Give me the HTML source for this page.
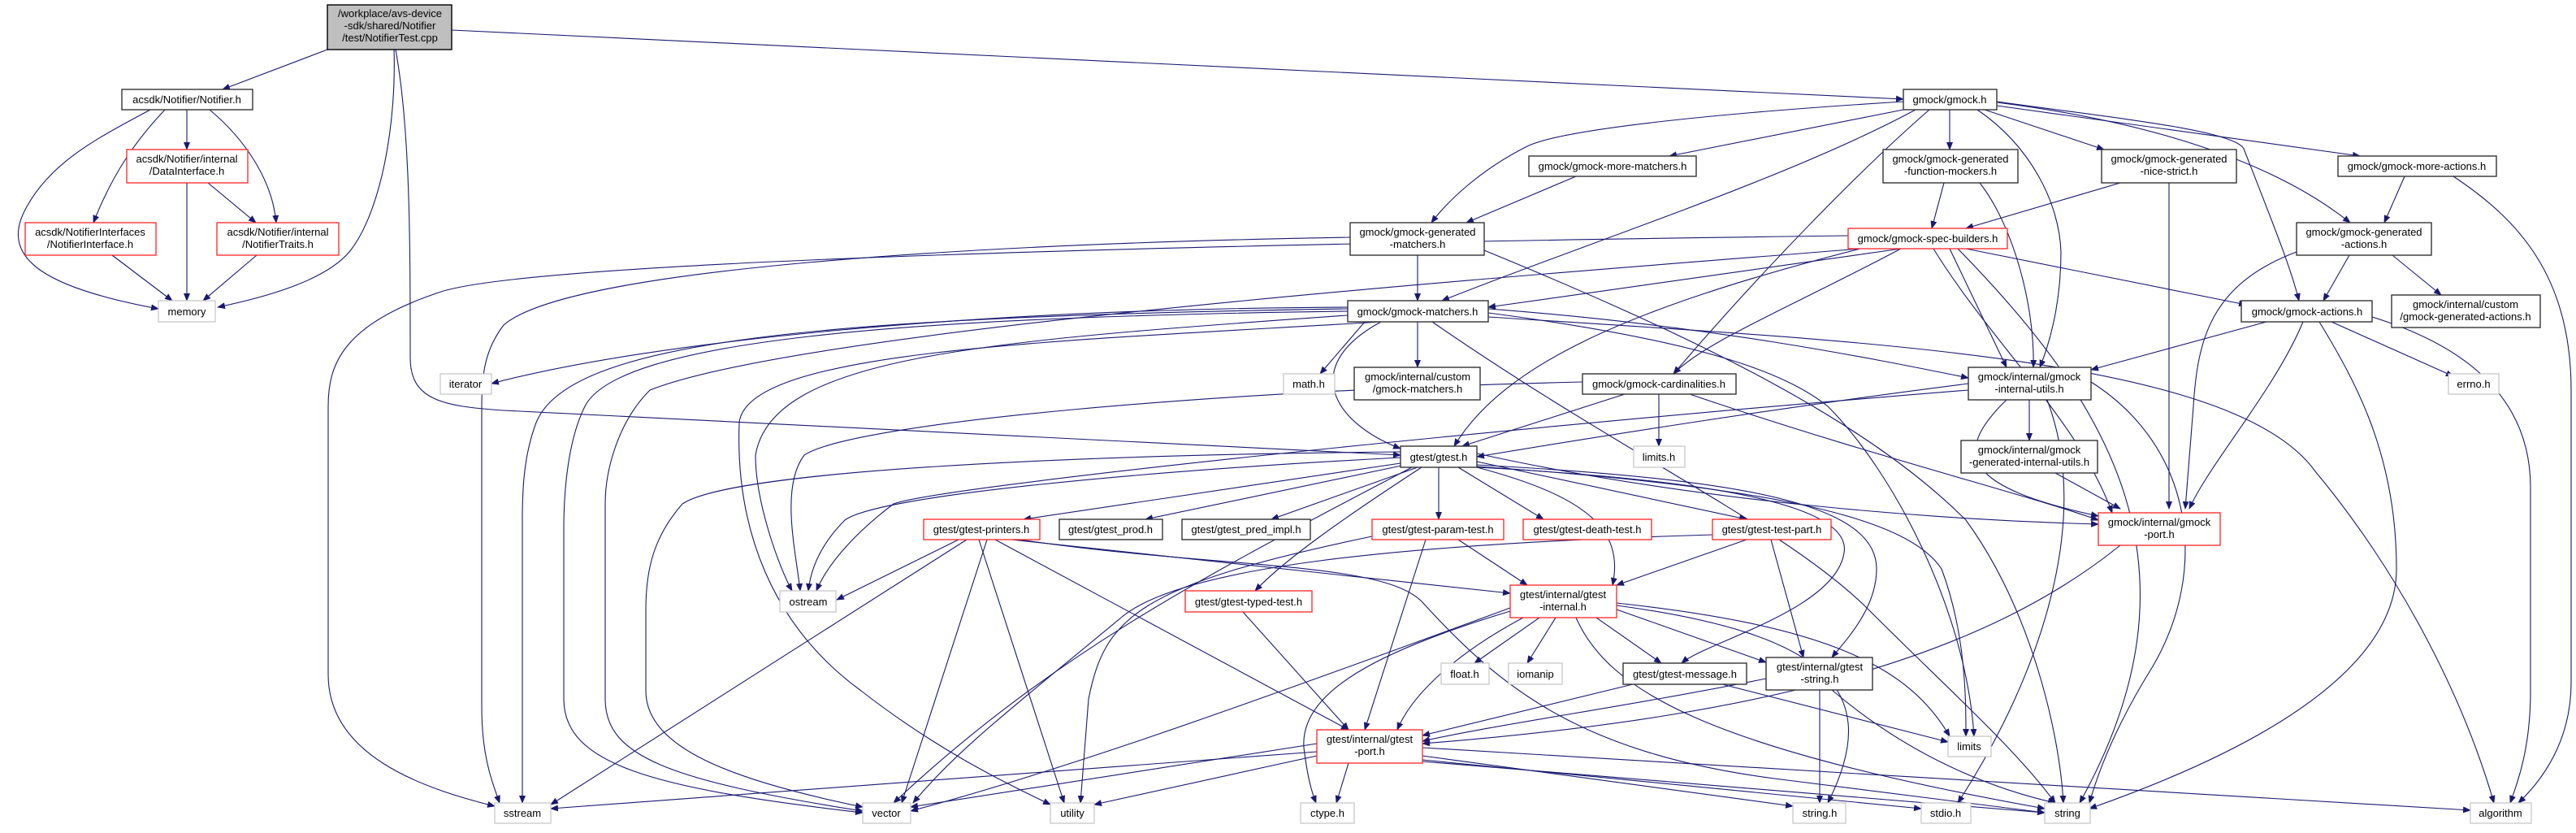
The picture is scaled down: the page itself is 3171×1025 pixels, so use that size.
<!DOCTYPE html>
<html><head><meta charset="utf-8"><style>
body{margin:0;background:#fff}
svg text{font-family:"Liberation Sans",Arial,sans-serif;font-size:13px;fill:#000;text-anchor:middle}
.e{fill:none;stroke:#191970;stroke-width:1.1;marker-end:url(#a)}
.n{fill:#fff;stroke:#333;stroke-width:1.4}
.r{fill:#fff;stroke:#f22;stroke-width:1.3}
.g{fill:#fff;stroke:#c8c8c8;stroke-width:1.3}
</style></head><body>
<svg width="3171" height="1020" xmlns="http://www.w3.org/2000/svg">
<defs><marker id="a" markerWidth="10" markerHeight="8" refX="9" refY="4" orient="auto" markerUnits="userSpaceOnUse"><path d="M0,0 L10,4 L0,8 z" fill="#191970"/></marker></defs>
<g>
<path class="e" d="M403,61 L274,110"/>
<path class="e" d="M485,61 C488,150 470,260 430,310 C400,345 330,365 268,378"/>
<path class="e" d="M487,61 C505,160 505,300 505,440 C505,490 540,500 620,505 L1724,560"/>
<path class="e" d="M556,37 L2343,122"/>
<path class="e" d="M185,135 C120,170 60,200 30,260 C0,320 60,355 195,380"/>
<path class="e" d="M203,135 C170,170 140,210 115,274"/>
<path class="e" d="M230,135 L230,184"/>
<path class="e" d="M258,135 C300,170 335,220 340,274"/>
<path class="e" d="M230,225 L230,370"/>
<path class="e" d="M256,225 L315,274"/>
<path class="e" d="M138,314 L212,370"/>
<path class="e" d="M316,314 L250,370"/>
<path class="e" d="M2343,125 C2100,140 1920,160 1880,180 C1820,210 1780,250 1762,274"/>
<path class="e" d="M2343,135 L2055,192"/>
<path class="e" d="M2358,135 C2200,220 1950,300 1775,370"/>
<path class="e" d="M2375,135 C2300,200 2180,320 2060,460"/>
<path class="e" d="M2400,135 L2400,184"/>
<path class="e" d="M2437,225 C2480,280 2505,380 2503,452"/>
<path class="e" d="M2434,135 C2500,180 2535,250 2537,310 C2537,380 2520,430 2511,452"/>
<path class="e" d="M2443,135 L2590,184"/>
<path class="e" d="M2458,125 C2600,145 2750,160 2762,183 C2800,280 2820,330 2830,370"/>
<path class="e" d="M2458,126 C2650,150 2800,200 2893,274"/>
<path class="e" d="M2458,130 L2905,192"/>
<path class="e" d="M1940,217 L1805,274"/>
<path class="e" d="M1745,314 L1745,370"/>
<path class="e" d="M1827,308 C2100,420 2300,520 2420,640 C2500,750 2535,900 2540,988"/>
<path class="e" d="M2275,290 C1500,300 650,320 540,360 C420,400 404,450 404,500 L404,830 C404,930 520,970 609,992"/>
<path class="e" d="M1662,292 C1200,300 700,330 620,400 C597,430 593,460 593,500 L593,870 C593,930 605,960 615,988"/>
<path class="e" d="M1659,380 C1000,390 700,420 660,520 C645,560 643,600 643,640 L643,988"/>
<path class="e" d="M1659,383 C1100,390 760,420 720,500 C700,540 694,600 694,650 L694,860 C694,940 800,970 1062,1000"/>
<path class="e" d="M2290,306 C2000,330 1000,400 800,480 C760,520 745,580 745,620 L745,860 C745,930 820,960 1062,998"/>
<path class="e" d="M1724,556 C1300,560 900,580 840,620 C805,660 795,700 795,750 L795,850 C795,920 900,960 1062,993"/>
<path class="e" d="M1659,388 C1200,420 950,440 930,560 C930,620 960,700 975,727"/>
<path class="e" d="M1948,470 C1500,480 1050,520 990,560 C960,600 980,680 985,727"/>
<path class="e" d="M1724,563 C1400,580 1080,610 1040,640 C1010,670 998,700 995,727"/>
<path class="e" d="M2423,480 C1800,530 1150,600 1100,620 C1060,650 1020,690 1005,727"/>
<path class="e" d="M1180,664 L1030,738"/>
<path class="e" d="M1190,664 L678,990"/>
<path class="e" d="M1215,664 L1110,988"/>
<path class="e" d="M1205,664 L1310,988"/>
<path class="e" d="M1225,664 L1660,898"/>
<path class="e" d="M1245,664 L1859,730"/>
<path class="e" d="M1255,664 C1500,700 1700,690 1750,740 C1850,850 1950,930 2200,960 L2517,1000"/>
<path class="e" d="M1738,575 C1500,700 1300,800 1100,988"/>
<path class="e" d="M1724,570 L1260,639"/>
<path class="e" d="M1730,572 L1410,639"/>
<path class="e" d="M1745,575 L1565,639"/>
<path class="e" d="M1771,575 L1771,639"/>
<path class="e" d="M1795,575 L1900,639"/>
<path class="e" d="M1750,575 C1650,640 1580,690 1545,727"/>
<path class="e" d="M1818,575 C1950,610 2000,650 1985,720"/>
<path class="e" d="M1818,568 L2150,639"/>
<path class="e" d="M1818,575 C2100,590 2280,620 2270,680 C2260,750 2100,790 2070,816"/>
<path class="e" d="M1818,572 C2150,590 2310,620 2310,700 C2310,750 2270,790 2255,809"/>
<path class="e" d="M1818,574 C2200,600 2350,640 2390,700 C2420,780 2420,860 2420,906"/>
<path class="e" d="M1818,558 C2100,620 2400,640 2583,645"/>
<path class="e" d="M1795,664 L1880,720"/>
<path class="e" d="M1755,664 L1680,898"/>
<path class="e" d="M1689,660 C1400,720 1360,760 1340,860 L1330,988"/>
<path class="e" d="M1530,753 L1660,898"/>
<path class="e" d="M2150,664 L1990,720"/>
<path class="e" d="M2180,664 L2220,809"/>
<path class="e" d="M2108,658 C1700,670 1450,700 1380,760 C1260,860 1180,920 1124,988"/>
<path class="e" d="M1875,760 C1800,800 1740,850 1720,898"/>
<path class="e" d="M1859,752 C1700,800 1600,850 1605,920 C1610,960 1615,975 1620,988"/>
<path class="e" d="M1859,748 C1500,880 1300,950 1121,998"/>
<path class="e" d="M1895,760 L1815,816"/>
<path class="e" d="M1915,760 L1880,816"/>
<path class="e" d="M1965,760 L2045,816"/>
<path class="e" d="M1990,750 L2174,815"/>
<path class="e" d="M1990,742 C2250,770 2350,820 2400,906"/>
<path class="e" d="M1990,745 C2250,780 2320,850 2250,988"/>
<path class="e" d="M1940,760 C1980,850 2100,920 2517,995"/>
<path class="e" d="M2010,842 L1751,905"/>
<path class="e" d="M2120,842 L2398,913"/>
<path class="e" d="M2174,835 C2000,870 1850,890 1751,912"/>
<path class="e" d="M2240,849 L2240,988"/>
<path class="e" d="M2255,849 C2350,930 2450,970 2530,988"/>
<path class="e" d="M2610,671 C2450,800 2200,880 1751,915"/>
<path class="e" d="M1621,925 L678,995"/>
<path class="e" d="M1621,915 L1121,993"/>
<path class="e" d="M1621,930 L1347,990"/>
<path class="e" d="M1660,939 L1645,988"/>
<path class="e" d="M1751,930 L2207,992"/>
<path class="e" d="M1751,935 L2365,995"/>
<path class="e" d="M1751,937 L2517,1000"/>
<path class="e" d="M1751,920 C2300,950 2800,980 3041,997"/>
<path class="e" d="M1659,378 C1200,380 800,420 605,472"/>
<path class="e" d="M1680,396 L1625,460"/>
<path class="e" d="M1745,396 L1745,452"/>
<path class="e" d="M1700,396 C1600,450 1640,520 1724,552"/>
<path class="e" d="M1763,396 C2000,560 2200,650 2300,750 C2400,850 2480,920 2530,988"/>
<path class="e" d="M1832,385 C2100,420 2200,460 2250,500 C2330,580 2420,750 2430,906"/>
<path class="e" d="M1832,380 C2100,400 2300,440 2423,465"/>
<path class="e" d="M1832,390 C2300,420 2750,440 2850,580 C2950,700 3030,850 3070,988"/>
<path class="e" d="M2920,390 C3050,430 3115,500 3115,600 L3115,850 C3115,920 3100,960 3090,988"/>
<path class="e" d="M3020,217 C3100,270 3165,340 3165,480 L3165,840 C3165,900 3140,950 3100,988"/>
<path class="e" d="M1700,396 C1300,420 920,430 910,520 C905,650 950,770 1060,850 C1150,920 1230,960 1293,990"/>
<path class="e" d="M2340,306 L1832,378"/>
<path class="e" d="M2340,306 C2200,380 2100,420 2060,460"/>
<path class="e" d="M2290,306 C2000,380 1850,450 1790,549"/>
<path class="e" d="M2400,306 L2470,452"/>
<path class="e" d="M2420,306 L2765,375"/>
<path class="e" d="M2380,306 C2450,420 2560,520 2600,631"/>
<path class="e" d="M2410,306 C2600,500 2720,700 2560,988"/>
<path class="e" d="M2393,225 L2378,281"/>
<path class="e" d="M2610,225 L2420,281"/>
<path class="e" d="M2670,225 L2670,626"/>
<path class="e" d="M2960,217 L2935,274"/>
<path class="e" d="M2892,314 L2860,370"/>
<path class="e" d="M2945,314 L3005,363"/>
<path class="e" d="M2827,310 C2720,350 2705,420 2700,500 L2690,626"/>
<path class="e" d="M2790,396 L2574,455"/>
<path class="e" d="M2835,396 C2800,480 2720,570 2695,626"/>
<path class="e" d="M2870,396 L3020,463"/>
<path class="e" d="M2855,396 C2900,470 2950,560 2950,700 C2950,850 2700,950 2572,995"/>
<path class="e" d="M2000,485 L1800,549"/>
<path class="e" d="M2042,485 L2042,549"/>
<path class="e" d="M2080,485 C2300,560 2500,610 2583,640"/>
<path class="e" d="M2423,472 C2200,500 1950,540 1818,562"/>
<path class="e" d="M2498,492 L2498,542"/>
<path class="e" d="M2470,492 C2400,560 2420,600 2583,635"/>
<path class="e" d="M2520,492 C2580,650 2500,850 2410,988"/>
<path class="e" d="M2574,470 C2700,550 2720,700 2650,820 C2600,900 2580,960 2572,988"/>
<path class="e" d="M2530,582 L2610,626"/>
</g>
<g>
<rect x="403" y="6" width="153" height="55" fill="#bfbfbf" stroke="#000" stroke-width="1.4"/>
<text x="480" y="21">/workplace/avs-device</text><text x="480" y="36">-sdk/shared/Notifier</text><text x="480" y="51">/test/NotifierTest.cpp</text>
<rect class="n" x="150" y="110" width="161" height="25"/><text x="230" y="127">acsdk/Notifier/Notifier.h</text>
<rect class="r" x="156" y="184" width="149" height="41"/><text x="230" y="200">acsdk/Notifier/internal</text><text x="230" y="215">/DataInterface.h</text>
<rect class="r" x="31" y="274" width="161" height="40"/><text x="111" y="290">acsdk/NotifierInterfaces</text><text x="111" y="305">/NotifierInterface.h</text>
<rect class="r" x="267" y="274" width="150" height="40"/><text x="342" y="290">acsdk/Notifier/internal</text><text x="342" y="305">/NotifierTraits.h</text>
<rect class="g" x="195" y="370" width="70" height="26"/><text x="230" y="388">memory</text>
<rect class="g" x="542" y="460" width="63" height="25"/><text x="573" y="477">iterator</text>
<rect class="n" x="2343" y="110" width="115" height="25"/><text x="2400" y="127">gmock/gmock.h</text>
<rect class="n" x="1882" y="192" width="206" height="25"/><text x="1985" y="209">gmock/gmock-more-matchers.h</text>
<rect class="n" x="1662" y="274" width="165" height="40"/><text x="1745" y="290">gmock/gmock-generated</text><text x="1745" y="305">-matchers.h</text>
<rect class="n" x="1659" y="370" width="173" height="26"/><text x="1745" y="388">gmock/gmock-matchers.h</text>
<rect class="g" x="1580" y="460" width="63" height="25"/><text x="1611" y="477">math.h</text>
<rect class="n" x="1667" y="452" width="155" height="40"/><text x="1745" y="468">gmock/internal/custom</text><text x="1745" y="483">/gmock-matchers.h</text>
<rect class="n" x="1948" y="460" width="189" height="25"/><text x="2042" y="477">gmock/gmock-cardinalities.h</text>
<rect class="n" x="2318" y="184" width="166" height="41"/><text x="2401" y="200">gmock/gmock-generated</text><text x="2401" y="215">-function-mockers.h</text>
<rect class="r" x="2275" y="281" width="196" height="25"/><text x="2373" y="298">gmock/gmock-spec-builders.h</text>
<rect class="n" x="2587" y="184" width="166" height="41"/><text x="2670" y="200">gmock/gmock-generated</text><text x="2670" y="215">-nice-strict.h</text>
<rect class="n" x="2878" y="192" width="195" height="25"/><text x="2975" y="209">gmock/gmock-more-actions.h</text>
<rect class="n" x="2827" y="274" width="166" height="40"/><text x="2910" y="290">gmock/gmock-generated</text><text x="2910" y="305">-actions.h</text>
<rect class="n" x="2759" y="370" width="161" height="26"/><text x="2840" y="388">gmock/gmock-actions.h</text>
<rect class="n" x="2944" y="363" width="183" height="40"/><text x="3035" y="379">gmock/internal/custom</text><text x="3035" y="394">/gmock-generated-actions.h</text>
<rect class="g" x="3014" y="460" width="62" height="25"/><text x="3045" y="477">errno.h</text>
<rect class="n" x="2423" y="452" width="151" height="40"/><text x="2498" y="468">gmock/internal/gmock</text><text x="2498" y="483">-internal-utils.h</text>
<rect class="g" x="960" y="727" width="69" height="26"/><text x="995" y="745">ostream</text>
<rect class="g" x="609" y="988" width="69" height="25"/><text x="643" y="1005">sstream</text>
<rect class="g" x="1062" y="988" width="59" height="25"/><text x="1091" y="1005">vector</text>
<rect class="n" x="1724" y="549" width="94" height="26"/><text x="1771" y="567">gtest/gtest.h</text>
<rect class="r" x="1137" y="639" width="143" height="25"/><text x="1208" y="656">gtest/gtest-printers.h</text>
<rect class="n" x="1304" y="639" width="127" height="25"/><text x="1367" y="656">gtest/gtest_prod.h</text>
<rect class="n" x="1455" y="639" width="158" height="25"/><text x="1534" y="656">gtest/gtest_pred_impl.h</text>
<rect class="r" x="1689" y="639" width="162" height="25"/><text x="1770" y="656">gtest/gtest-param-test.h</text>
<rect class="r" x="1875" y="639" width="158" height="25"/><text x="1954" y="656">gtest/gtest-death-test.h</text>
<rect class="r" x="1459" y="727" width="156" height="26"/><text x="1537" y="745">gtest/gtest-typed-test.h</text>
<rect class="r" x="1859" y="720" width="131" height="40"/><text x="1924" y="736">gtest/internal/gtest</text><text x="1924" y="751">-internal.h</text>
<rect class="g" x="1774" y="816" width="59" height="26"/><text x="1803" y="834">float.h</text>
<rect class="g" x="1857" y="816" width="66" height="26"/><text x="1890" y="834">iomanip</text>
<rect class="r" x="1621" y="898" width="130" height="41"/><text x="1686" y="914">gtest/internal/gtest</text><text x="1686" y="929">-port.h</text>
<rect class="g" x="1293" y="988" width="54" height="25"/><text x="1320" y="1005">utility</text>
<rect class="g" x="1601" y="988" width="66" height="25"/><text x="1634" y="1005">ctype.h</text>
<rect class="g" x="2011" y="549" width="63" height="26"/><text x="2042" y="567">limits.h</text>
<rect class="n" x="2414" y="542" width="168" height="40"/><text x="2498" y="558">gmock/internal/gmock</text><text x="2498" y="573">-generated-internal-utils.h</text>
<rect class="r" x="2583" y="631" width="150" height="40"/><text x="2658" y="647">gmock/internal/gmock</text><text x="2658" y="662">-port.h</text>
<rect class="r" x="2108" y="639" width="146" height="25"/><text x="2181" y="656">gtest/gtest-test-part.h</text>
<rect class="n" x="1998" y="816" width="152" height="26"/><text x="2074" y="834">gtest/gtest-message.h</text>
<rect class="n" x="2174" y="809" width="131" height="40"/><text x="2240" y="825">gtest/internal/gtest</text><text x="2240" y="840">-string.h</text>
<rect class="g" x="2398" y="906" width="53" height="25"/><text x="2424" y="923">limits</text>
<rect class="g" x="2207" y="988" width="65" height="25"/><text x="2240" y="1005">string.h</text>
<rect class="g" x="2365" y="988" width="61" height="25"/><text x="2395" y="1005">stdio.h</text>
<rect class="g" x="2517" y="988" width="56" height="25"/><text x="2545" y="1005">string</text>
<rect class="g" x="3041" y="988" width="75" height="25"/><text x="3078" y="1005">algorithm</text>
</g>
</svg>
</body></html>
